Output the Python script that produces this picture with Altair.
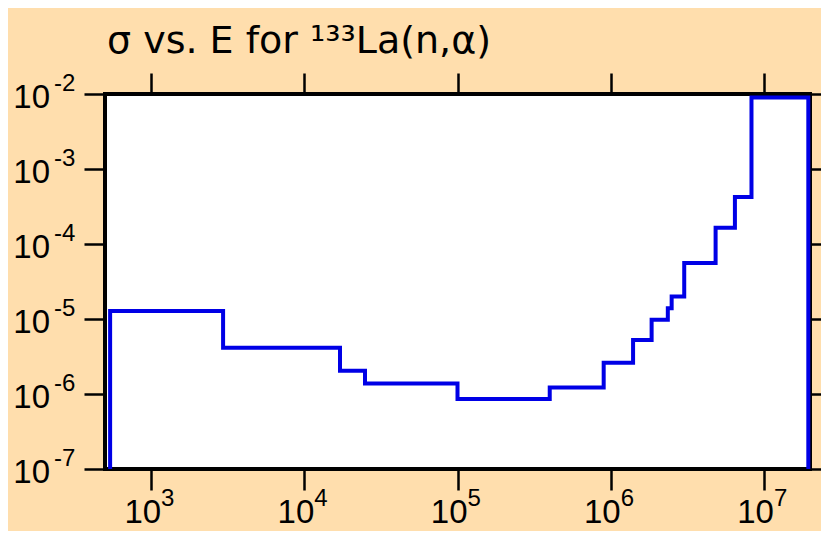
import altair as alt
import pandas as pd

# Bin edges (eV) and the cross-section of each bin (b)
edges = [540, 2950, 17100, 24900, 1.0e5, 4.0e5, 9.0e5, 1.40e6, 1.85e6,
         2.36e6, 2.50e6, 3.02e6, 4.84e6, 6.47e6, 8.3e6, 1.95e7]
sigma = [1.28e-5, 4.15e-6, 2.04e-6, 1.38e-6, 8.55e-7, 1.22e-6, 2.61e-6,
         5.25e-6, 9.8e-6, 1.39e-5, 1.99e-5, 5.56e-5, 1.65e-4, 4.23e-4, 9.0e-3]
floor = 1e-7

x_ticks = [1e3, 1e4, 1e5, 1e6, 1e7]
x_exp = ["3", "4", "5", "6", "7"]
y_ticks = [1e-7, 1e-6, 1e-5, 1e-4, 1e-3, 1e-2]
y_exp = ["-7", "-6", "-5", "-4", "-3", "-2"]
base = "10"
title_text = "σ vs. E for ¹³³La(n,α)"

line_df = pd.DataFrame({
    "E": [edges[0]] + edges[1:] + [edges[-1]],
    "sigma": [floor] + sigma + [floor],
})
line_df["i"] = range(len(line_df))

xdf = pd.DataFrame({"E": x_ticks, "base": [base] * len(x_ticks), "exp": x_exp})
ydf = pd.DataFrame({"sigma": y_ticks, "base": [base] * len(y_ticks), "exp": y_exp})

xs = alt.Scale(type="log", domain=[500, 2e7], nice=False)
ys = alt.Scale(type="log", domain=[1e-7, 1e-2], nice=False)
LAB = "Liberation Sans"


def tick_axis(orient, values):
    return alt.Axis(orient=orient, values=values, labels=False, title=None,
                    domain=False, grid=False, ticks=True, tickSize=21,
                    tickWidth=2.5, tickColor="black")


line = alt.Chart(line_df).mark_line(
    interpolate="step-before", color="#0000E6", strokeWidth=4, strokeJoin="miter"
).encode(
    x=alt.X("E:Q", scale=xs, axis=tick_axis("bottom", x_ticks)),
    y=alt.Y("sigma:Q", scale=ys, axis=tick_axis("left", y_ticks)),
    order="i:O",
)

x_base = alt.Chart(xdf).mark_text(
    align="right", baseline="alphabetic", dx=10, font=LAB, fontSize=33, color="black"
).encode(
    x=alt.X("E:Q", scale=xs, axis=tick_axis("top", x_ticks)),
    y=alt.value(429),
    text="base:N",
)

x_sup = alt.Chart(xdf).mark_text(
    align="left", baseline="alphabetic", dx=10, font=LAB, fontSize=24, color="black"
).encode(
    x=alt.X("E:Q", scale=xs, axis=None),
    y=alt.value(412),
    text="exp:N",
)

y_base = alt.Chart(ydf).mark_text(
    align="right", baseline="alphabetic", dy=13.5, font=LAB, fontSize=33, color="black"
).encode(
    y=alt.Y("sigma:Q", scale=ys, axis=tick_axis("right", y_ticks)),
    x=alt.value(-55),
    text="base:N",
)

y_sup = alt.Chart(ydf).mark_text(
    align="left", baseline="alphabetic", dy=-3.5, font=LAB, fontSize=24, color="black"
).encode(
    y=alt.Y("sigma:Q", scale=ys, axis=None),
    x=alt.value(-51),
    text="exp:N",
)

chart = alt.layer(line, x_base, x_sup, y_base, y_sup).resolve_axis(
    x="independent", y="independent"
).properties(
    width=705,
    height=375,
    padding={"left": 97, "top": 86, "right": 11, "bottom": 62},
    autosize="none",
    background="#FFDEAD",
    title=alt.TitleParams(
        text=title_text, anchor="start", frame="group", font="DejaVu Sans",
        fontSize=38, fontWeight="normal", color="black", baseline="alphabetic",
        offset=21, dx=2, dy=40,
    ),
).configure_view(fill="white", stroke="black", strokeWidth=4)

chart.save("out.html", embed_options={"renderer": "svg", "actions": False})
